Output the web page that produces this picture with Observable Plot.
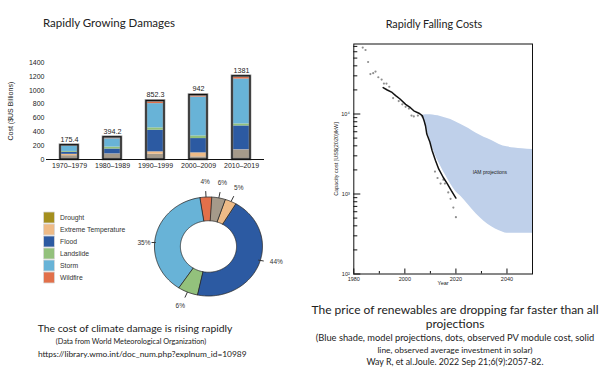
<!DOCTYPE html>
<html>
<head>
<meta charset="utf-8">
<script src="https://cdn.jsdelivr.net/npm/d3@7"></script>
<script src="https://cdn.jsdelivr.net/npm/@observablehq/plot@0.6"></script>
<style>
  html, body { margin: 0; padding: 0; background: #fff; }
  #page { position: relative; width: 600px; height: 383px; overflow: hidden; background: #fff; }
  #page svg { position: absolute; overflow: visible; }
  .t { position: absolute; white-space: nowrap; text-align: center; color: #222; font-family: Lato, "Open Sans", sans-serif; }
</style>
</head>
<body>
<div id="page">
  <div class="t" style="left:0px; width:218px; top:16px; font-size:11.5px; line-height:14px;">Rapidly Growing Damages</div>
  <div class="t" style="left:334px; width:200px; top:16.5px; font-size:10.8px; line-height:14px;">Rapidly Falling Costs</div>

  <div class="t" style="left:35px; width:200px; top:321px; font-size:10.4px; line-height:14px;">The cost of climate damage is rising rapidly</div>
  <div class="t" style="left:31px; width:200px; top:337px; font-size:7.3px; line-height:10px;">(Data from World Meteorological Organization)</div>
  <div class="t" style="left:38px; width:200px; top:349px; font-size:8.4px; line-height:10px;">https://library.wmo.int/doc_num.php?explnum_id=10989</div>

  <div class="t" style="left:305px; width:300px; top:303px; font-size:12px; line-height:14px;">The price of renewables are dropping far faster than all</div>
  <div class="t" style="left:305px; width:300px; top:317px; font-size:12px; line-height:14px;">projections</div>
  <div class="t" style="left:305px; width:300px; top:333px; font-size:9.3px; line-height:10px;">(Blue shade, model projections, dots, observed PV module cost, solid</div>
  <div class="t" style="left:305px; width:300px; top:345px; font-size:8.4px; line-height:10px;">line, observed average investment in solar)</div>
  <div class="t" style="left:305px; width:300px; top:357px; font-size:8.8px; line-height:10px;">Way R, et al.Joule. 2022 Sep 21;6(9):2057-82.</div>
</div>
<script>
// ---------------- Data: damages by decade (US$ billions) ----------------
const periods = ["1970–1979", "1980–1989", "1990–1999", "2000–2009", "2010–2019"];
const seriesNames = ["Drought", "Extreme Temperature", "Flood", "Landslide", "Storm", "Wildfire"];
const drought     = [55, 75, 77, 38, 135];
const extremeTemp = [20, 5, 34, 58, 5];
const flood       = [30, 72, 313, 207, 346];
const landslide   = [12, 28, 34, 38, 29];
const storm       = [78, 120, 351, 563, 650];
const wildfire    = [12, 22, 38, 29, 40];
const barLabels   = ["175.4", "394.2", "852.3", "942", "1381"];
const yTicksBar   = [0, 200, 400, 600, 800, 1000, 1200, 1400];

// ---------------- Data: donut shares (%) ----------------
const donutShares = [4.2, 3.4, 44.8, 6.0, 38.2, 3.4];   // arc sizes as drawn
const donutLabels = ["6%", "5%", "44%", "6%", "35%", "4%"];
const donutStartDeg = 3.5;

// ---------------- Data: PV costs ----------------
const dotYears  = [1983.5, 1984.6, 1985.6, 1986.5, 1987.6, 1988.5, 1989.6, 1990.9, 1991.8, 1992.8, 1993.9, 1995.4, 1997.6, 1999.0, 2000.3, 2001.6, 2002.6, 2003.5, 2005.1, 2006.8, 2011.8, 2012.8, 2014.0, 2015.1, 2015.7, 2017.0, 2017.9, 2019.0, 2020.0];
const dotCosts  = [67600, 63100, 44700, 31600, 32400, 33900, 28800, 26900, 24000, 24000, 21900, 15800, 14500, 13200, 12300, 11700, 9550, 9330, 9550, 9330, 1905, 1585, 1350, 1510, 1350, 1047, 871, 676, 513];
const lineYears = [1991.5, 1993.1, 1995.0, 1996.4, 1998.0, 2000.3, 2002.2, 2003.5, 2005.5, 2006.8, 2007.5, 2008.1, 2008.6, 2009.8, 2010.7, 2012.0, 2013.3, 2015.0, 2016.6, 2018.2, 2020.0];
const lineCosts = [21400, 19950, 18600, 17000, 15500, 13200, 12000, 10960, 10230, 9550, 8320, 7080, 5620, 4470, 3470, 2630, 2040, 1620, 1350, 1100, 890];
const bandYears = [2006.8, 2008, 2010, 2012, 2014, 2016, 2018, 2020, 2022, 2025, 2028, 2031, 2034, 2037, 2040, 2043, 2046, 2050];
const bandLow   = [9550, 7240, 4570, 3020, 2240, 1700, 1320, 1070, 933, 724, 562, 457, 389, 347, 324, 324, 324, 324];
const bandHigh  = [9550, 9770, 9770, 9550, 9330, 8910, 8510, 7940, 7410, 6610, 5750, 5130, 4680, 4170, 3890, 3760, 3670, 3590];
const annotation = [{year: 2033.3, cost: 1850, text: "IAM projections"}];

// ---------------- Colours ----------------
const barColors    = ["#a59a8a", "#eebb87", "#2c5aa2", "#93c17c", "#68b3d7", "#e2704a"];
const legendColors = ["#a48f1e", "#eebb87", "#2c5aa2", "#93c17c", "#68b3d7", "#e2704a"];

const page = document.getElementById("page");
const place = (el, left, top) => { el.style.left = left + "px"; el.style.top = top + "px"; page.appendChild(el); };

// ---------------- Bar chart ----------------
const seriesValues = [drought, extremeTemp, flood, landslide, storm, wildfire];
const barRows = periods.flatMap((p, i) => seriesNames.map((s, j) => ({period: p, series: s, value: seriesValues[j][i]})));
const labelRows = periods.map((p, i) => ({period: p, total: d3.sum(seriesValues, v => v[i]), label: barLabels[i]}));

const bar = Plot.plot({
  width: 300, height: 180,
  marginLeft: 46, marginRight: 36, marginTop: 62.3, marginBottom: 21,
  style: {fontFamily: "Liberation Sans, Arial, sans-serif", fontSize: "7px", color: "#222", background: "transparent"},
  x: {domain: periods, paddingInner: 0.59, paddingOuter: 0.3, label: null},
  y: {domain: [0, 1400], label: null},
  color: {domain: seriesNames, range: barColors},
  marks: [
    Plot.axisY({ticks: yTicksBar, tickSize: 0, tickPadding: 2, tickFormat: d => String(d),
      label: "Cost ($US Billions)", labelAnchor: "center", labelOffset: 38, labelArrow: "none"}),
    Plot.axisX({tickSize: 0, tickPadding: 4, label: null}),
    Plot.barY(barRows, {x: "period", y: "value", fill: "series"}),
    Plot.barY(barRows, Plot.groupX({y: "sum"}, {x: "period", y: "value", fill: "none", stroke: "#8c8c8c", strokeWidth: 2.6})),
    Plot.barY(barRows, Plot.groupX({y: "sum"}, {x: "period", y: "value", fill: "none", stroke: "#111", strokeWidth: 1.2})),
    Plot.ruleY([0], {stroke: "#111", strokeWidth: 1.2}),
    Plot.text(labelRows, {x: "period", y: "total", text: "label", dy: -6, fontSize: 7.2, fill: "#222"})
  ]
});
place(bar, 0, 0);

// ---------------- Legend ----------------
const legendRows = seriesNames.map((s, i) => ({name: s, color: legendColors[i]}));
const legend = Plot.plot({
  width: 110, height: 100, margin: 0,
  style: {fontFamily: "Liberation Sans, Arial, sans-serif", fontSize: "6.8px", color: "#333", background: "transparent"},
  x: {domain: [0, 1], range: [18.5, 28.5], axis: null},
  y: {type: "point", domain: seriesNames, range: [13.3, 89.7], axis: null},
  marks: [
    Plot.dot(legendRows, {x: () => 0, y: "name", symbol: "square", r: 6.2, fill: "color", stroke: "#d8d8d8", strokeWidth: 0.8}),
    Plot.text(legendRows, {x: () => 1, y: "name", text: "name", textAnchor: "start", dx: 1, fill: "#333"})
  ]
});
place(legend, 30, 195);

// ---------------- Donut ----------------
const inner = 0.52;
const donutRows = seriesNames.map((s, i) => ({name: s, share: donutShares[i], label: donutLabels[i]}));
const a0 = donutStartDeg * Math.PI / 180;
const arcs = d3.pie().sort(null).value(d => d.share).startAngle(a0).endAngle(a0 + 2 * Math.PI)(donutRows);
const ringPts = [];
for (const a of arcs) {
  const n = Math.max(6, Math.ceil((a.endAngle - a.startAngle) / 0.02));
  for (let i = 0; i <= n; i++) { const t = a.startAngle + (a.endAngle - a.startAngle) * i / n; ringPts.push({name: a.data.name, x: Math.sin(t), y: Math.cos(t)}); }
  for (let i = n; i >= 0; i--) { const t = a.startAngle + (a.endAngle - a.startAngle) * i / n; ringPts.push({name: a.data.name, x: inner * Math.sin(t), y: inner * Math.cos(t)}); }
}
const mids = arcs.map(a => { const m = (a.startAngle + a.endAngle) / 2; return {label: a.data.label, s: Math.sin(m), c: Math.cos(m)}; });
const donut = Plot.plot({
  width: 160, height: 145, margin: 0,
  style: {fontFamily: "Liberation Sans, Arial, sans-serif", fontSize: "6.5px", color: "#333", background: "transparent"},
  x: {domain: [-1.444, 1.519], range: [0, 160], axis: null},
  y: {domain: [-1.394, 1.535], range: [145, 0], axis: null},
  color: {domain: seriesNames, range: barColors},
  marks: [
    Plot.line(ringPts, {x: "x", y: "y", z: "name", fill: "name", stroke: "#2a2a2a", strokeWidth: 0.8, curve: "linear-closed"}),
    Plot.link(mids.filter(d => Math.abs(d.s) <= 0.5), {x1: d => d.s, y1: d => d.c, x2: d => 1.12 * d.s, y2: d => 1.12 * d.c, stroke: "#333", strokeWidth: 1}),
    Plot.link(mids.filter(d => d.s > 0.5), {x1: d => 0.99 * d.s, y1: d => 0.75 * d.c, x2: d => 1.1 * d.s, y2: d => 0.8 * d.c, stroke: "#333", strokeWidth: 1}),
    Plot.link(mids.filter(d => d.s < -0.5), {x1: d => 1.0 * d.s, y1: d => 0.37 * d.c, x2: d => 1.08 * d.s, y2: d => 0.37 * d.c, stroke: "#333", strokeWidth: 1}),
    Plot.text(mids.filter(d => d.s > 0.5), {x: d => 1.22 * d.s, y: d => 0.87 * d.c, text: "label", textAnchor: "start", fill: "#333"}),
    Plot.text(mids.filter(d => d.s < -0.5), {x: d => 1.1 * d.s, y: d => 0.37 * d.c, text: "label", textAnchor: "end", fill: "#333"}),
    Plot.text(mids.filter(d => Math.abs(d.s) <= 0.5), {x: d => 1.34 * d.s, y: d => 1.3 * d.c, text: "label", fill: "#333"})
  ]
});
place(donut, 130, 170);

// ---------------- PV cost chart ----------------
const dots = dotYears.map((y, i) => ({year: y, cost: dotCosts[i]}));
const obsLine = lineYears.map((y, i) => ({year: y, cost: lineCosts[i]}));
const band = bandYears.map((y, i) => ({year: y, low: bandLow[i], high: bandHigh[i]}));
const sup = {2: "²", 3: "³", 4: "⁴"};
const minorY = [];
for (const dec of [100, 1000, 10000]) for (let k = 2; k <= 9; k++) if (dec * k <= 75000) minorY.push(dec * k);

const pv = Plot.plot({
  width: 300, height: 300,
  marginLeft: 53.3, marginRight: 68, marginTop: 43.5, marginBottom: 26.5,
  style: {fontFamily: "Liberation Sans, Arial, sans-serif", fontSize: "5.5px", color: "#222", background: "transparent"},
  x: {domain: [1980, 2050], label: null},
  y: {type: "log", domain: [100, 75000], label: null},
  marks: [
    Plot.areaY(band, {x: "year", y1: "low", y2: "high", fill: "#bfd0ea", curve: "monotone-x"}),
    Plot.dot(dots, {x: "year", y: "cost", r: 1.1, fill: "#8f8f8f"}),
    Plot.line(obsLine, {x: "year", y: "cost", stroke: "#111", strokeWidth: 1.5}),
    Plot.text(annotation, {x: "year", y: "cost", text: "text", fontSize: 5, fill: "#222"}),
    Plot.frame({stroke: "#111", strokeWidth: 1}),
    Plot.axisY({ticks: [100, 1000, 10000], tickSize: 0, tickPadding: 4, tickFormat: d => "10" + sup[Math.round(Math.log10(d))],
      label: "Capacity cost [US$(2020)/kW]", labelAnchor: "center", labelOffset: 20, labelArrow: "none"}),
    Plot.axisY({ticks: [100, 1000, 10000], tickSize: 7, dx: 7, tickFormat: () => "", label: null, stroke: "#111"}),
    Plot.axisY({ticks: minorY, tickSize: 4, dx: 4, tickFormat: () => "", label: null, stroke: "#111"}),
    Plot.axisX({ticks: [1980, 2000, 2020, 2040], tickSize: 0, tickPadding: 3, tickFormat: d => String(d),
      label: "Year", labelAnchor: "center", labelOffset: 11, labelArrow: "none"}),
    Plot.axisX({ticks: [1980, 2000, 2020, 2040], tickSize: 5, dy: -5, tickFormat: () => "", label: null, stroke: "#111"}),
    Plot.axisX({ticks: [1990, 2010, 2030], tickSize: 2.5, dy: -2.5, tickFormat: () => "", label: null, stroke: "#111"})
  ]
});
place(pv, 300, 0);
</script>
</body>
</html>
